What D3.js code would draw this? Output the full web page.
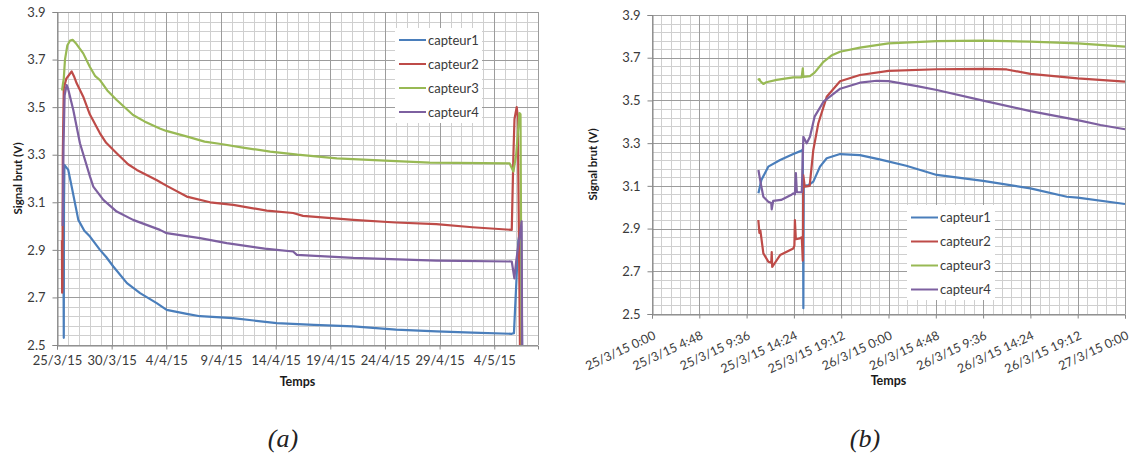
<!DOCTYPE html>
<html><head><meta charset="utf-8">
<script src="https://cdn.jsdelivr.net/npm/d3@7"></script>
<style>
body{margin:0;background:#fff}
text{font-family:Lato,"Open Sans",sans-serif}
</style>
</head><body>
<svg id="c" width="1130" height="456"></svg>
<script>
// ---- data ----
const seriesNames = ["capteur1","capteur2","capteur3","capteur4"];
const seriesColors = ["#4a7ebb","#be4b48","#98b954","#7d60a0"];
const yTicks = [2.5,2.7,2.9,3.1,3.3,3.5,3.7,3.9];
const aTickDays = [0,5,10,15,20,25,30,35,40];
const bTickHours = [0,4.8,9.6,14.4,19.2,24,28.8,33.6,38.4,43.2,48];

// chart (a): [days since 25/3/15, volts]
const a1 = [[0.60,2.75],[0.62,2.53],[0.64,3.10],[0.68,3.257],[0.80,3.25],[1.03,3.236],[1.34,3.166],[1.95,3.026],[2.5,2.98],[3.02,2.956],[3.93,2.90],[4.5,2.87],[5.15,2.83],[6.4,2.76],[7.6,2.718],[9.12,2.676],[10.03,2.648],[11.87,2.631],[13.08,2.621],[16.1,2.613],[20.1,2.592],[23.5,2.585],[27.1,2.578],[31,2.565],[34.7,2.557],[38,2.552],[41.6,2.547],[41.8,2.55],[42.2,2.94],[42.45,3.0],[42.55,2.5]];
const a2 = [[0.45,2.94],[0.47,2.72],[0.50,2.75],[0.53,3.30],[0.62,3.58],[0.85,3.62],[1.1,3.635],[1.34,3.65],[1.55,3.63],[1.8,3.60],[2.4,3.544],[3.0,3.47],[3.93,3.39],[4.5,3.35],[5.46,3.306],[6.5,3.26],[7.3,3.236],[9.1,3.194],[10,3.17],[11.87,3.124],[14,3.10],[16.13,3.089],[19.19,3.065],[21.6,3.055],[22.5,3.043],[27.1,3.026],[31,3.015],[34.7,3.008],[38,2.995],[41.6,2.984],[41.75,3.30],[41.85,3.45],[42.05,3.50],[42.15,3.46],[42.35,2.5]];
const a3 = [[0.46,3.57],[0.55,3.60],[0.62,3.62],[0.73,3.70],[0.95,3.76],[1.2,3.78],[1.43,3.783],[1.7,3.77],[2.4,3.726],[3.0,3.67],[3.5,3.63],[3.93,3.614],[4.6,3.57],[5.46,3.53],[6.96,3.467],[8,3.44],[9.4,3.41],[10,3.40],[12,3.375],[13.5,3.355],[15,3.345],[17,3.33],[19.5,3.313],[22,3.30],[25.6,3.285],[30,3.275],[34.1,3.267],[41.4,3.264],[41.75,3.229],[42.0,3.30],[42.3,3.475],[42.4,3.47],[42.5,2.5]];
const a4 = [[0.52,3.0],[0.55,3.1],[0.60,3.35],[0.70,3.55],[0.88,3.593],[1.0,3.58],[1.49,3.488],[2.1,3.348],[3.02,3.208],[3.32,3.166],[4.24,3.11],[5.46,3.061],[6.96,3.026],[9.42,2.984],[10.03,2.97],[13.08,2.949],[15.53,2.928],[19.0,2.905],[20.1,2.90],[21.6,2.893],[21.94,2.879],[27.1,2.866],[34.7,2.855],[41.6,2.851],[41.84,2.78],[42.0,2.85],[42.45,3.0],[42.5,3.02],[42.55,2.5]];

// chart (b): [hours since 25/3/15 0:00, volts]
const b1 = [[10.8,3.065],[11.1,3.127],[11.8,3.19],[13,3.221],[14.34,3.249],[15.19,3.265],[15.3,3.27],[15.36,2.527],[15.4,3.10],[15.9,3.104],[16.37,3.12],[17.05,3.19],[17.73,3.229],[19.08,3.249],[21.1,3.244],[23.1,3.224],[25.8,3.194],[28.9,3.151],[33.6,3.123],[38.4,3.088],[42.1,3.049],[43.2,3.045],[48,3.015]];
const b2 = [[10.79,2.94],[10.9,2.88],[11.0,2.89],[11.3,2.784],[11.8,2.745],[12.1,2.74],[12.15,2.79],[12.2,2.72],[13,2.776],[14.34,2.807],[14.45,2.82],[14.5,2.94],[14.6,2.85],[15.0,2.854],[15.2,2.86],[15.3,2.75],[15.35,3.15],[15.5,3.096],[16.0,3.10],[16.37,3.268],[16.88,3.393],[17.73,3.517],[19.08,3.59],[21.1,3.619],[24,3.638],[28.9,3.646],[33.6,3.648],[36,3.645],[38.4,3.624],[43.2,3.603],[48,3.588]];
const b3 = [[10.73,3.596],[10.9,3.60],[11.0,3.59],[11.3,3.577],[11.6,3.585],[12.65,3.596],[14.34,3.608],[15.19,3.608],[15.3,3.65],[15.36,3.61],[16.03,3.614],[16.5,3.63],[17.4,3.681],[18.2,3.71],[19.08,3.728],[21.1,3.747],[24,3.767],[28.9,3.778],[33.6,3.78],[38.4,3.775],[43.2,3.767],[48,3.752]];
const b4 = [[10.8,3.174],[11.0,3.12],[11.3,3.049],[11.8,3.026],[12.1,3.02],[12.15,2.99],[12.3,3.03],[13.1,3.034],[14.1,3.057],[14.34,3.065],[14.5,3.06],[14.6,3.16],[14.7,3.07],[15.2,3.07],[15.36,3.33],[15.7,3.299],[16.03,3.33],[16.5,3.424],[17.4,3.494],[19.1,3.555],[21.1,3.583],[22.8,3.592],[24,3.59],[26.9,3.567],[28.9,3.549],[33.6,3.499],[38.4,3.45],[43.2,3.408],[45.5,3.385],[48,3.365]];

// ---- drawing ----
const svg = d3.select("#c");
const T0 = Date.UTC(2015,2,25);
const MINOR = "#cfcfcf", MAJOR = "#9c9c9c", AXIS = "#868686", TXT = "#3a3a3a";

function panel(cfg){
  const g = svg.append("g");
  const x = d3.scaleUtc().domain(cfg.domain).range([cfg.x0, cfg.x1]);
  const y = d3.scaleLinear().domain([2.5,3.9]).range([cfg.y1, cfg.y0]);
  const px = v => Math.round(v) + 0.5;
  // minor grid
  g.append("g").selectAll("line").data(cfg.minorX).join("line")
    .attr("x1", d => px(x(d))).attr("x2", d => px(x(d)))
    .attr("y1", cfg.y0).attr("y2", cfg.y1).attr("stroke", MINOR);
  g.append("g").selectAll("line").data(d3.range(2.5, 3.9001, 0.04)).join("line")
    .attr("y1", d => px(y(d))).attr("y2", d => px(y(d)))
    .attr("x1", cfg.x0).attr("x2", cfg.x1).attr("stroke", MINOR);
  // major grid
  g.append("g").selectAll("line").data(cfg.majorX).join("line")
    .attr("x1", d => px(x(d))).attr("x2", d => px(x(d)))
    .attr("y1", cfg.y0).attr("y2", cfg.y1).attr("stroke", MAJOR);
  g.append("g").selectAll("line").data(yTicks).join("line")
    .attr("y1", d => px(y(d))).attr("y2", d => px(y(d)))
    .attr("x1", cfg.x0).attr("x2", cfg.x1).attr("stroke", MAJOR);
  g.append("line").attr("x1", px(cfg.x1)).attr("x2", px(cfg.x1))
    .attr("y1", cfg.y0).attr("y2", cfg.y1).attr("stroke", MAJOR);

  // axes
  const ya = g.append("g").attr("transform", `translate(${px(cfg.x0)},0)`)
    .call(d3.axisLeft(y).tickValues(yTicks).tickFormat(d3.format(".1f")).tickSize(5).tickPadding(7));
  const xa = g.append("g").attr("transform", `translate(0,${px(cfg.y1)})`)
    .call(d3.axisBottom(x).tickValues(cfg.majorX).tickFormat(cfg.fmt).tickSize(4).tickPadding(6));
  [ya, xa].forEach(a => {
    a.select(".domain").attr("stroke", AXIS);
    a.selectAll(".tick line").attr("stroke", AXIS);
    a.selectAll("text").attr("fill", TXT).style("font-size", "13px").style("font-family", "Lato");
  });
  if (cfg.rotate) {
    xa.selectAll("text").attr("y", 0).attr("dy", 0).attr("text-anchor", "end")
      .style("font-size", "12.5px")
      .attr("transform", "translate(4,24) rotate(-25)");
  }

  // series
  const line = d3.line().x(d => x(cfg.toDate(d[0]))).y(d => y(d[1]));
  cfg.data.forEach((s, i) => {
    g.append("path").datum(s).attr("d", line).attr("fill", "none")
      .attr("stroke", seriesColors[i]).attr("stroke-width", 2.2).attr("stroke-linejoin", "round");
  });

  // legend
  const L = cfg.legend;
  g.append("rect").attr("x", L.x).attr("y", L.y).attr("width", L.w).attr("height", L.h).attr("fill", "#fff");
  seriesNames.forEach((n, i) => {
    const yy = L.y + L.first + i * L.step;
    g.append("line").attr("x1", L.x + 4).attr("x2", L.x + 31).attr("y1", yy).attr("y2", yy)
      .attr("stroke", seriesColors[i]).attr("stroke-width", 2);
    g.append("text").attr("x", L.x + 33).attr("y", yy).attr("dy", "0.35em")
      .attr("fill", TXT).style("font-size", "13px").text(n);
  });

  // titles
  g.append("text").attr("transform", `translate(${cfg.ytX},${(cfg.y0 + cfg.y1) / 2}) rotate(-90)`)
    .attr("text-anchor", "middle").attr("fill", "#1a1a1a").style("font-size", "11.5px").style("font-weight", "bold")
    .text("Signal brut (V)");
  g.append("text").attr("x", (cfg.x0 + cfg.x1) / 2).attr("y", cfg.xtY)
    .attr("text-anchor", "middle").attr("fill", "#1a1a1a").style("font-size", "12.5px").style("font-weight", "bold")
    .text("Temps");
  svg.append("text").attr("x", cfg.capX).attr("y", 447).attr("text-anchor", "middle")
    .style("font-family", "'Liberation Serif', serif").style("font-style", "italic").style("font-size", "26px")
    .attr("fill", "#222").text(cfg.caption);
}

const dayDate = d => new Date(T0 + d * 864e5);
const hourDate = h => new Date(T0 + h * 3600e3);

panel({
  x0: 57, x1: 538, y0: 12, y1: 345,
  domain: [dayDate(0), dayDate(44)],
  majorX: aTickDays.map(dayDate),
  minorX: d3.range(0, 45, 1).map(dayDate),
  fmt: d3.utcFormat("%-d/%-m/%y"),
  rotate: false,
  toDate: dayDate,
  data: [a1, a2, a3, a4],
  legend: {x: 395, y: 28, w: 87, h: 95, first: 12, step: 24},
  ytX: 22, xtY: 386, capX: 283, caption: "(a)"
});

panel({
  x0: 652, x1: 1125, y0: 15, y1: 314,
  domain: [hourDate(0), hourDate(48)],
  majorX: bTickHours.map(hourDate),
  minorX: d3.range(0, 48.001, 0.96).map(hourDate),
  fmt: d3.utcFormat("%-d/%-m/%y %-H:%M"),
  rotate: true,
  toDate: hourDate,
  data: [b1, b2, b3, b4],
  legend: {x: 907, y: 205, w: 88, h: 95, first: 12.5, step: 24},
  ytX: 597, xtY: 385, capX: 865, caption: "(b)"
});
</script>
</body></html>
